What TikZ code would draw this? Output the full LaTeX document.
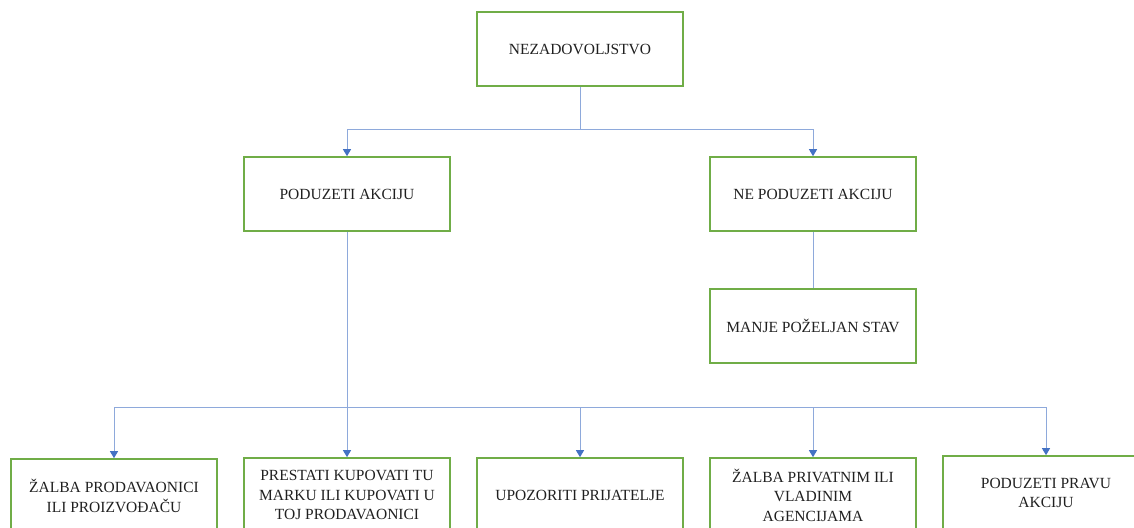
\documentclass[tikz,border=0pt]{standalone}
\usepackage{fontspec}
\setmainfont{Liberation Serif}
\usetikzlibrary{arrows.meta}
\definecolor{boxgreen}{HTML}{70AD47}
\definecolor{linkblue}{HTML}{8EA9DB}
\definecolor{tipblue}{HTML}{4472C4}
\definecolor{txt}{HTML}{202020}
\tikzset{
  box/.style={draw=boxgreen, line width=1.6pt, rectangle, minimum width=206pt, minimum height=74pt,
    align=center, text=txt, font=\fontsize{15.5}{19.5}\selectfont, inner sep=2pt},
  conn/.style={draw=linkblue, line width=1pt},
  arr/.style={conn, -{Triangle[width=8pt,length=7pt,color=tipblue]}},
}
\begin{document}
\begin{tikzpicture}[x=1pt,y=-1pt]
\useasboundingbox (0,0) rectangle (1134,527);
\clip (0,0) rectangle (1134,527);
\node[box] (top) at (580,49) {NEZADOVOLJSTVO};
\node[box] (pa) at (347,194) {PODUZETI AKCIJU};
\node[box] (npa) at (813,194) {NE PODUZETI AKCIJU};
\node[box] (mps) at (813,326) {MANJE POŽELJAN STAV};
\node[box] (b1) at (114,496) {ŽALBA PRODAVAONICI\\ILI PROIZVOĐAČU};
\node[box] (b2) at (347,495) {PRESTATI KUPOVATI TU\\MARKU ILI KUPOVATI U\\TOJ PRODAVAONICI};
\node[box] (b3) at (580,495) {UPOZORITI PRIJATELJE};
\node[box] (b4) at (813,495) {ŽALBA PRIVATNIM ILI\\VLADINIM\\AGENCIJAMA};
\node[box] (b5) at (1046,493) {PODUZETI PRAVU\\AKCIJU};
\coordinate (j1) at (580,129);
\coordinate (j2) at (347,407);
\draw[conn] (top) -- (j1);
\draw[arr] (j1) -| (pa);
\draw[arr] (j1) -| (npa);
\draw[conn] (npa) -- (mps);
\draw[arr] (pa) -- (b2);
\draw[arr] (j2) -| (b1);
\draw[arr] (j2) -| (b3);
\draw[arr] (j2) -| (b4);
\draw[arr] (j2) -| (b5);
\end{tikzpicture}
\end{document}
